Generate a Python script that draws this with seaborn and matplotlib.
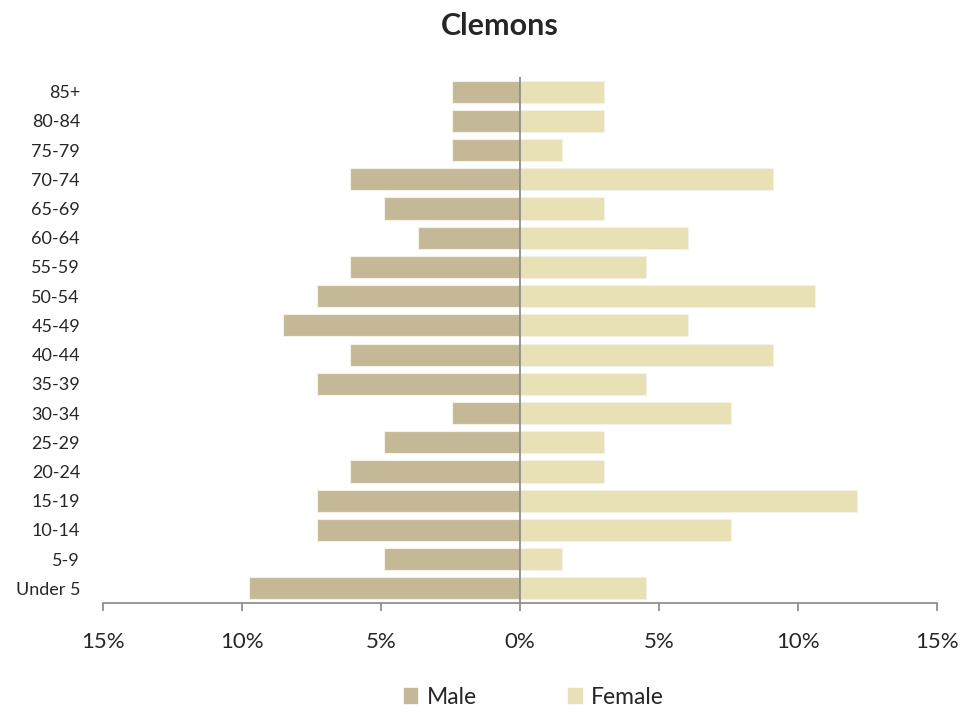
"""Population pyramid for Clemons, by age group and sex."""

import matplotlib
matplotlib.use("Agg")
import matplotlib.pyplot as plt
import matplotlib.patches as mpatches
from matplotlib.ticker import FuncFormatter
import pandas as pd
import seaborn as sns

# Age groups, top of the chart first
AGE_GROUPS = ["85+", "80-84", "75-79", "70-74", "65-69", "60-64", "55-59",
              "50-54", "45-49", "40-44", "35-39", "30-34", "25-29", "20-24",
              "15-19", "10-14", "5-9", "Under 5"]

# Share of each sex's population, in percent
MALE_PCT = [2.44, 2.44, 2.44, 6.10, 4.88, 3.66, 6.10, 7.32, 8.54, 6.10,
            7.32, 2.44, 4.88, 6.10, 7.32, 7.32, 4.88, 9.76]
FEMALE_PCT = [3.03, 3.03, 1.52, 9.09, 3.03, 6.06, 4.55, 10.61, 6.06, 9.09,
              4.55, 7.58, 3.03, 3.03, 12.12, 7.58, 1.52, 4.55]

COLORS = {"Male": "#C4B896", "Female": "#E8E1B5"}
FONT = ["Lato", "DejaVu Sans"]

sns.set_style("white")
plt.rcParams["font.family"] = FONT

df = pd.DataFrame({
    "age": AGE_GROUPS * 2,
    "sex": ["Male"] * len(AGE_GROUPS) + ["Female"] * len(AGE_GROUPS),
    "value": [-v for v in MALE_PCT] + FEMALE_PCT,
})

fig = plt.figure(figsize=(9.79, 7.13), dpi=100)
ax = fig.add_axes([103 / 979, 1 - 603 / 713, 834 / 979, 526 / 713])

sns.barplot(data=df, y="age", x="value", hue="sex", order=AGE_GROUPS,
            hue_order=["Male", "Female"], palette=COLORS, saturation=1,
            dodge=False, orient="h", width=0.76, edgecolor="#F4F1E6",
            linewidth=0.8, legend=False, ax=ax)

ax.axvline(0, color="#868686", linewidth=1.2, zorder=5)

ax.set_xlim(-15, 15)
ax.set_ylim(len(AGE_GROUPS) - 0.5, -0.5)
ax.set_xticks([-15, -10, -5, 0, 5, 10, 15])
ax.xaxis.set_major_formatter(FuncFormatter(lambda v, _: f"{abs(v):.0f}%"))
ax.set_xlabel("")
ax.set_ylabel("")

for side in ["top", "right", "left"]:
    ax.spines[side].set_visible(False)
ax.spines["bottom"].set_color("#868686")
ax.spines["bottom"].set_linewidth(1.2)

ax.tick_params(axis="x", bottom=True, length=6, width=1.2, color="#868686",
               pad=15, labelsize=16)
ax.tick_params(axis="y", left=False, pad=13, labelsize=13)

fig.text(500 / 979, 1 - 26 / 713, "Clemons", ha="center", va="center",
         fontsize=22, fontweight="bold", family=FONT)

handles = [mpatches.Patch(color=COLORS[s], label=s) for s in ["Male", "Female"]]
fig.legend(handles=handles, loc="center", bbox_to_anchor=(534 / 979, 1 - 697 / 713),
           ncol=2, frameon=False, fontsize=16.5, handlelength=0.6,
           handleheight=0.6, handletextpad=0.4, columnspacing=4.0)

fig.savefig("out.png", dpi=100)
plt.close(fig)
